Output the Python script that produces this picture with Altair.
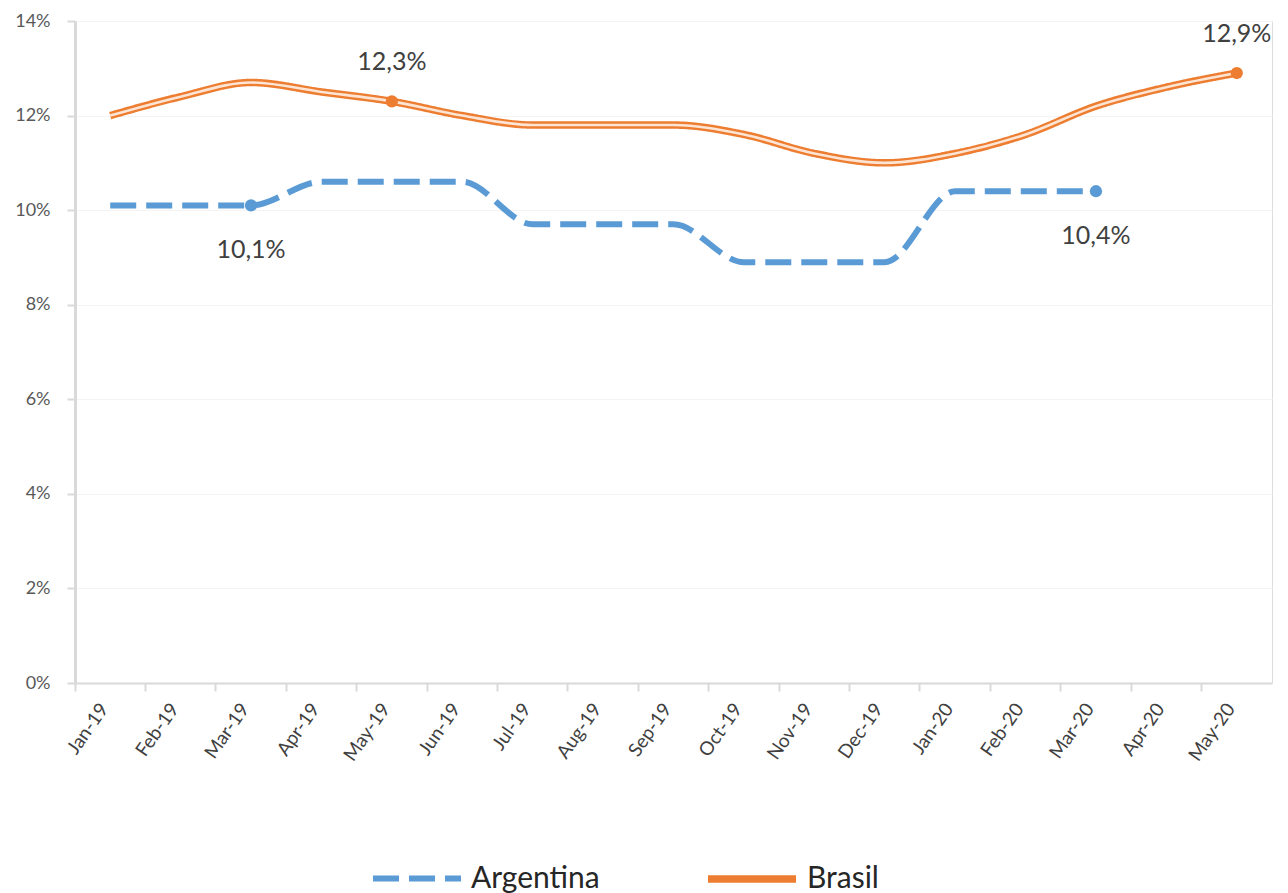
import altair as alt
import pandas as pd

months = ["Jan-19", "Feb-19", "Mar-19", "Apr-19", "May-19", "Jun-19", "Jul-19", "Aug-19",
          "Sep-19", "Oct-19", "Nov-19", "Dec-19", "Jan-20", "Feb-20", "Mar-20", "Apr-20", "May-20"]
argentina = [10.1, 10.1, 10.1, 10.6, 10.6, 10.6, 9.7, 9.7, 9.7, 8.9, 8.9, 8.9, 10.4, 10.4, 10.4, None, None]
brasil = [12.0, 12.4, 12.7, 12.5, 12.3, 12.0, 11.8, 11.8, 11.8, 11.6, 11.2, 11.0, 11.2, 11.6, 12.2, 12.6, 12.9]

label_months = ["Mar-19", "May-19", "Mar-20", "May-20"]
label_series = ["Argentina", "Brasil", "Argentina", "Brasil"]
label_text = ["10,1%", "12,3%", "10,4%", "12,9%"]

y_ticks = [0, 2, 4, 6, 8, 10, 12, 14]

rows = []
for m, a, b in zip(months, argentina, brasil):
    if a is not None:
        rows.append({"month": m, "series": "Argentina", "value": a})
    rows.append({"month": m, "series": "Brasil", "value": b})
df = pd.DataFrame(rows)

lab_rows = []
for m, s, t in zip(label_months, label_series, label_text):
    v = df[(df.month == m) & (df.series == s)].value.iloc[0]
    lab_rows.append({"month": m, "series": s, "value": v, "text": t})
lab = pd.DataFrame(lab_rows)

FONT = "Lato"
ORANGE = "#ED7D31"
BLUE = "#5B9BD5"

x_enc = alt.X("month:N", sort=months, bandPosition=0.5,
              scale=alt.Scale(type="band", domain=months, paddingInner=0, paddingOuter=0),
              axis=alt.Axis(title=None, labelAngle=-55, labelAlign="right", labelBaseline="middle",
                            labelFont=FONT, labelFontSize=19, labelColor="#404040",
                            labelPadding=14, labelOffset=-6,
                            domainColor="#d9d9d9", domainWidth=2,
                            tickColor="#d9d9d9", tickWidth=2, tickSize=8,
                            bandPosition=0, grid=False))
y_scale = alt.Scale(domain=[0, 14], nice=False)
y_enc = alt.Y("value:Q", scale=y_scale,
              axis=alt.Axis(title=None, values=y_ticks, labelExpr="datum.value + '%'",
                            labelFont=FONT, labelFontSize=18, labelColor="#595959",
                            labelPadding=17, tickSize=8, tickColor="#d9d9d9", tickWidth=2,
                            domainColor="#d9d9d9", domainWidth=3,
                            grid=True, gridColor="#f4f4f4", gridWidth=1))

color_scale = alt.Scale(domain=["Argentina", "Brasil"], range=[BLUE, ORANGE])
dash_scale = alt.Scale(domain=["Argentina", "Brasil"], range=[[26, 10], [1, 0]])
width_scale = alt.Scale(domain=["Argentina", "Brasil"], range=[6, 7.5])

base = alt.Chart(df)

lines = base.mark_line(interpolate="monotone", strokeCap="butt").encode(
    x=x_enc, y=y_enc,
    color=alt.Color("series:N", scale=color_scale,
                    legend=alt.Legend(title=None, orient="none", legendX=295, legendY=810,
                                      direction="horizontal", symbolType="stroke",
                                      symbolStrokeWidth=8, symbolSize=7744,
                                      labelFont=FONT, labelFontSize=30, labelColor="#262626",
                                      columnPadding=93, labelOffset=7)),
    strokeDash=alt.StrokeDash("series:N", scale=dash_scale, legend=None),
    strokeWidth=alt.StrokeWidth("series:N", scale=width_scale, legend=None),
)

inner = base.transform_filter(alt.datum.series == "Brasil").mark_line(
    strokeWidth=2.6, interpolate="monotone", color="#fde4d3").encode(
    x=alt.X("month:N", sort=months, bandPosition=0.5), y=alt.Y("value:Q"))

pts = alt.Chart(lab).mark_circle(size=150, opacity=1).encode(
    x=alt.X("month:N", sort=months, bandPosition=0.5), y=alt.Y("value:Q"),
    color=alt.Color("series:N", scale=color_scale, legend=None))

txt_below = alt.Chart(lab).transform_filter(alt.datum.series == "Argentina").mark_text(
    dy=45, font=FONT, fontSize=25, color="#404040").encode(
    x=alt.X("month:N", sort=months, bandPosition=0.5), y=alt.Y("value:Q"), text="text:N")

txt_above = alt.Chart(lab).transform_filter(alt.datum.series == "Brasil").mark_text(
    dy=-39, font=FONT, fontSize=25, color="#404040").encode(
    x=alt.X("month:N", sort=months, bandPosition=0.5), y=alt.Y("value:Q"), text="text:N")

chart = alt.layer(lines, inner, pts, txt_below, txt_above).properties(
    width=1197, height=662,
    autosize=alt.AutoSizeParams(type="none"),
    padding={"left": 67, "top": 13, "right": 8, "bottom": 210},
).configure_view(stroke=None).configure(background="white")

chart.save("out.html", embed_options={"renderer": "svg", "actions": False})
